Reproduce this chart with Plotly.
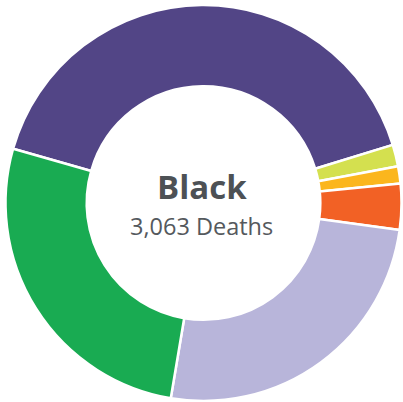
import plotly.graph_objects as go

labels = ["Group 1", "Group 2", "Group 3", "Group 4", "Group 5", "Group 6"]
values = [1251, 54, 43, 115, 780, 820]
colors = ["#524586", "#d4e04f", "#fbb61d", "#f26125", "#b8b5da", "#19ab52"]
title_text = "Black"
total_text = "3,063 Deaths"

fig = go.Figure(go.Pie(
    labels=labels, values=values, sort=False, direction="clockwise",
    rotation=-74.1, hole=0.59,
    marker=dict(colors=colors, line=dict(color="white", width=2.5)),
    textinfo="none", hoverinfo="label+value",
    domain=dict(x=[0.0137, 0.9963], y=[0.0025, 0.9876]),
))
fig.add_annotation(text="<b>" + title_text + "</b>", x=0.5, y=0.5, xref="paper", yref="paper",
                   yshift=15, showarrow=False,
                   font=dict(family="Open Sans", size=33, color="#4d5155"))
fig.add_annotation(text=total_text, x=0.5, y=0.5, xref="paper", yref="paper",
                   yshift=-25, showarrow=False,
                   font=dict(family="Open Sans", size=23.5, color="#55595d"))
fig.update_layout(width=403, height=402, margin=dict(l=0, r=0, t=0, b=0),
                  showlegend=False, paper_bgcolor="white", plot_bgcolor="white")
fig.write_html("out.html")
